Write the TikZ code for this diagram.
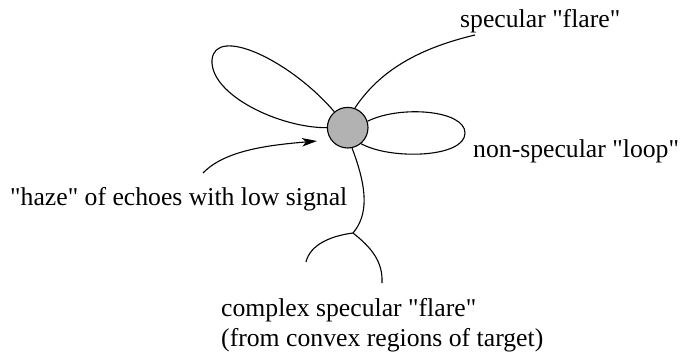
\documentclass[tikz,border=0pt]{standalone}
\usepackage{fontspec}
\setmainfont{Liberation Serif}[Ligatures=TeXOff]
\usetikzlibrary{arrows.meta}
\newcommand\dq{{\char34}}
\begin{document}
\begin{tikzpicture}[x=1pt,y=-1pt,
  curve/.style={draw=black,line width=1.1pt},
  txt/.style={inner sep=0pt,anchor=base west,font=\fontsize{25.7}{31}\selectfont},
  target/.style={circle,draw=black,line width=1.1pt,fill=black!30,minimum size=40.6pt,inner sep=0pt}]
\useasboundingbox (0,0) rectangle (683,354);
\node[target] (c) at (347.7,127.7) {};
% labels
\node[txt] (spec) at (460,27) {specular \dq{}flare\dq};
\node[txt] (nonspec) at (473,157) {non-specular \dq{}loop\dq};
\node[txt] (haze) at (10,205) {\dq{}haze\dq{} of echoes with low signal};
\node[txt] (cplxa) at (221,316) {complex specular \dq{}flare\dq};
\node[txt] (cplxb) at (221,346) {(from convex regions of target)};
% free ends
\coordinate (tipL) at (212,60);
\coordinate (tipR) at (465,133);
\coordinate (flareEnd) at (475,35);
\coordinate (junc) at (353,233);
\coordinate (brL) at (306,262);
\coordinate (brR) at (382,283);
\coordinate (arrS) at (203,173);
\coordinate (arrE) at (317,141);
% upper-left loop
\draw[curve] (c.130) .. controls (290,60) and (215,25) .. (tipL)
  .. controls (210,95) and (280,128) .. (c.180);
% right loop
\draw[curve] (c.18) .. controls (400,105) and (465,110) .. (tipR)
  .. controls (465,158) and (390,160) .. (c.-50);
% specular flare
\draw[curve] (c.70) .. controls (380,70) and (420,48) .. (flareEnd);
% complex flare
\draw[curve] (c.-78) .. controls (368,190) and (368,215) .. (junc);
\draw[curve] (junc) .. controls (330,236) and (310,245) .. (brL);
\draw[curve] (junc) .. controls (372,248) and (383,262) .. (brR);
% haze arrow
\draw[curve,-{Stealth[length=15pt,width=8.5pt,inset=4pt]}] (arrS) .. controls (225,150) and (270,145) .. (arrE);
\end{tikzpicture}
\end{document}
